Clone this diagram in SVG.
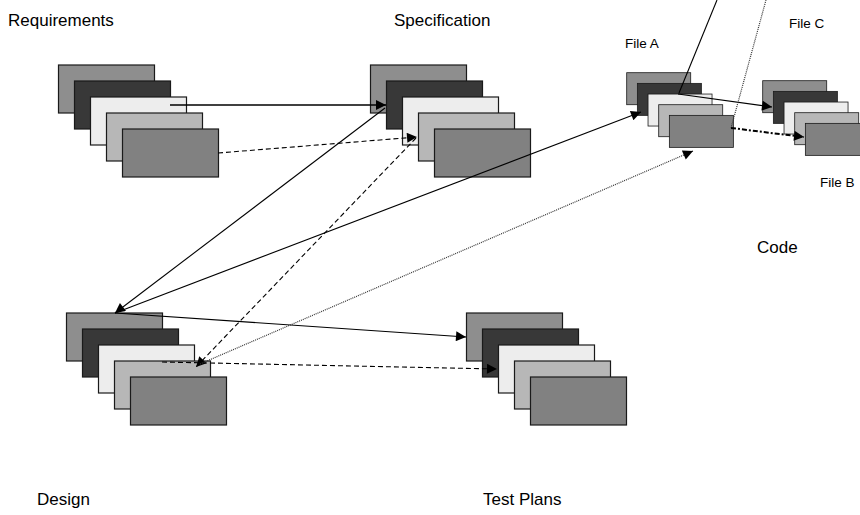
<svg xmlns="http://www.w3.org/2000/svg" xmlns:xlink="http://www.w3.org/1999/xlink" width="860" height="515" viewBox="0 0 860 515">
<style>
.lbl{font-family:"Liberation Sans",Arial,sans-serif;font-size:17px;fill:#000}
.sm{font-family:"Liberation Sans",Arial,sans-serif;font-size:13.5px;fill:#000}
.r{stroke:#1a1a1a;stroke-width:1.2}
.c1{fill:#8e8e8e}.c2{fill:#383838}.c3{fill:#ededed}.c4{fill:#b7b7b7}.c5{fill:#818181}
.ln{fill:none;stroke:#000;stroke-width:1.1}
.thick{stroke-width:1.6}
.dash{stroke-dasharray:5 3}
.dot{stroke:#333;stroke-width:1.2;stroke-dasharray:1 1}
.dd{stroke-width:2;stroke-dasharray:5 2 2 2}
</style>
<defs>
<marker id="ah" viewBox="0 0 10 10" refX="10" refY="5" markerWidth="12" markerHeight="10" markerUnits="userSpaceOnUse" orient="auto">
<path d="M0,0 L10,5 L0,10 z" fill="#000"/>
</marker>
<g id="stack">
<rect class="r c1" x="0" y="0" width="96" height="48"/>
<rect class="r c2" x="16" y="16" width="96" height="48"/>
<rect class="r c3" x="32" y="32" width="96" height="48"/>
<rect class="r c4" x="48" y="48" width="96" height="48"/>
<rect class="r c5" x="64" y="64" width="96" height="48"/>
</g>
</defs>
<rect width="860" height="515" fill="#fff"/>
<g id="requirements">
<use xlink:href="#stack" transform="translate(58.5,65)"/>
<text class="lbl" x="8" y="26">Requirements</text>
</g>
<g id="specification">
<use xlink:href="#stack" transform="translate(370.5,65)"/>
<text class="lbl" x="394" y="26">Specification</text>
</g>
<g id="design">
<use xlink:href="#stack" transform="translate(66.5,313)"/>
<text class="lbl" x="37" y="505">Design</text>
</g>
<g id="testplans">
<use xlink:href="#stack" transform="translate(466.5,313)"/>
<text class="lbl" x="483" y="505">Test Plans</text>
</g>
<g id="fileA">
<use xlink:href="#stack" transform="translate(626.7,72.7) scale(0.6667)"/>
<text class="sm" x="625" y="48">File A</text>
</g>
<g id="fileC">
<use xlink:href="#stack" transform="translate(762.7,80.7) scale(0.6667)"/>
<text class="sm" x="789" y="28">File C</text>
<text class="sm" x="820" y="187">File B</text>
</g>
<g id="code">
<text class="lbl" x="757" y="253">Code</text>
</g>
<g id="connectors">
<line class="ln thick" x1="170" y1="105" x2="386" y2="105" marker-end="url(#ah)"/>
<line class="ln dash" x1="218" y1="153" x2="417" y2="137" marker-end="url(#ah)"/>
<line class="ln" x1="385" y1="108" x2="115" y2="313" marker-end="url(#ah)"/>
<line class="ln" x1="115" y1="313" x2="641" y2="112" marker-end="url(#ah)"/>
<line class="ln" x1="115" y1="313" x2="466" y2="337" marker-end="url(#ah)"/>
<line class="ln dash" x1="162" y1="362" x2="497" y2="369" marker-end="url(#ah)"/>
<line class="ln dash" x1="416" y1="138" x2="196" y2="367" marker-end="url(#ah)"/>
<line class="ln dot" x1="200" y1="364" x2="693" y2="151" marker-end="url(#ah)"/>
<line class="ln" x1="678" y1="94" x2="772" y2="107" marker-end="url(#ah)"/>
<line class="ln" x1="717" y1="0" x2="679" y2="93"/>
<line class="ln dot" x1="766" y1="0" x2="731" y2="128"/>
<line class="ln dd" x1="731" y1="128" x2="804" y2="137" marker-end="url(#ah)"/>
</g>
</svg>
